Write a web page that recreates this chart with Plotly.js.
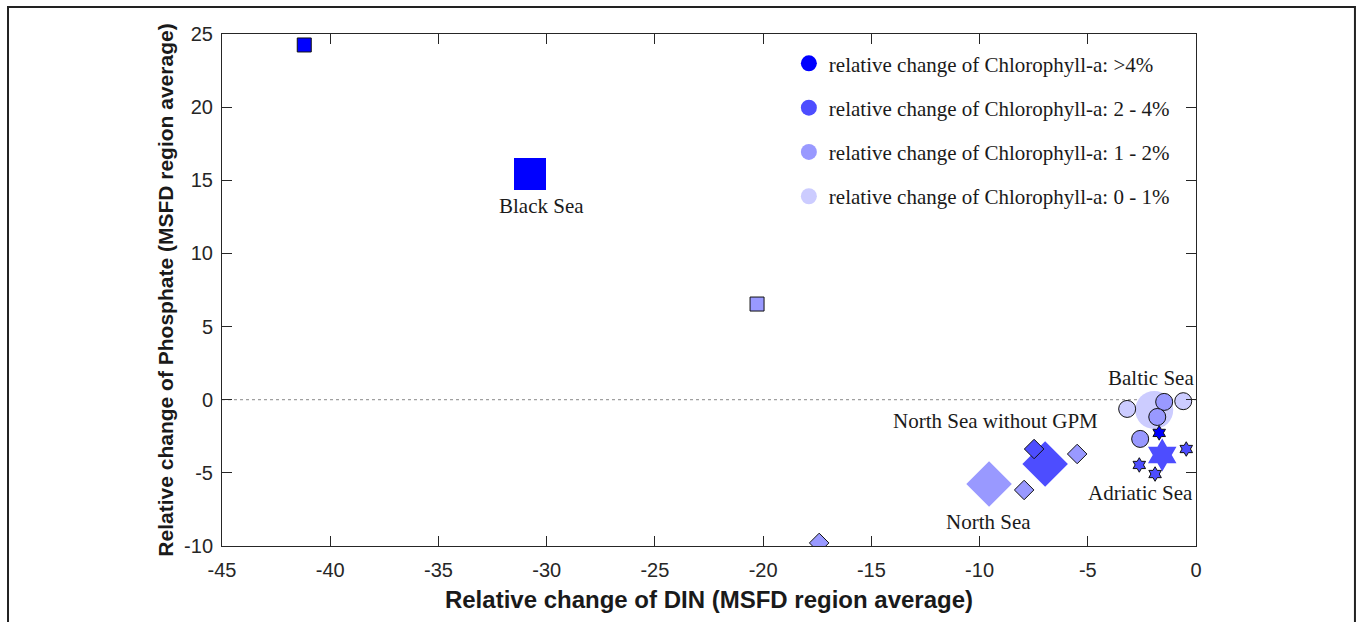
<!DOCTYPE html>
<html>
<head>
<meta charset="utf-8">
<script src="https://cdn.plot.ly/plotly-3.0.1.min.js"></script>
<style>
html,body{margin:0;padding:0;background:#fff;}
#chart{width:1357px;height:622px;}
</style>
</head>
<body>
<div id="chart"></div>
<script>
// Chlorophyll-a change categories (legend)
const categories = [
  'relative change of Chlorophyll-a: >4%',
  'relative change of Chlorophyll-a: 2 - 4%',
  'relative change of Chlorophyll-a: 1 - 2%',
  'relative change of Chlorophyll-a: 0 - 1%'
];
const categoryColors = ['#0000FF', '#4D4DFF', '#9999FF', '#CCCCFF'];

// Regions (MSFD region averages): DIN change, phosphate change, chlorophyll category index
const regionNames = ['Black Sea', 'North Sea', 'North Sea without GPM', 'Baltic Sea', 'Adriatic Sea'];
const regionSymbols = ['square', 'diamond', 'diamond', 'circle', 'hexagram'];
const regionDIN = [-30.77, -9.56, -6.97, -1.93, -1.56];
const regionPO4 = [15.43, -5.76, -4.39, -0.70, -3.78];
const regionCat = [0, 2, 1, 3, 1];

// Sub-regions per sea
const blackSeaDIN = [-41.2, -20.28];
const blackSeaPO4 = [24.25, 6.54];
const blackSeaCat = [0, 2];

const northSeaDIN = [-17.41, -7.94, -5.49, -7.48];
const northSeaPO4 = [-9.79, -6.17, -3.71, -3.37];
const northSeaCat = [2, 2, 2, 1];

const balticDIN = [-3.18, -1.47, -0.59, -1.79, -2.58];
const balticPO4 = [-0.63, -0.15, -0.10, -1.18, -2.68];
const balticCat = [3, 2, 3, 2, 2];

const adriaticDIN = [-1.70, -0.45, -2.62, -1.89];
const adriaticPO4 = [-2.27, -3.37, -4.46, -5.08];
const adriaticCat = [0, 1, 1, 1];

// Text labels
const labelText = ['Black Sea', 'North Sea without GPM', 'North Sea', 'Baltic Sea', 'Adriatic Sea'];
const labelX = [-30.26, -9.28, -9.60, -2.07, -2.58];
const labelY = [13.24, -1.45, -8.36, 1.49, -6.37];

const xTicks = [-45, -40, -35, -30, -25, -20, -15, -10, -5, 0];
const yTicks = [-10, -5, 0, 5, 10, 15, 20, 25];

const bigSize = {square: 32, diamond: 35, circle: 38, hexagram: 25};
const smallSize = {square: 14, diamond: 15, circle: 17, hexagram: 11};

const traces = [];
// region averages (large, no outline)
regionNames.forEach((name, i) => {
  traces.push({
    type: 'scatter', mode: 'markers', name: name, showlegend: false,
    x: [regionDIN[i]], y: [regionPO4[i]],
    marker: {symbol: regionSymbols[i], size: bigSize[regionSymbols[i]],
             color: categoryColors[regionCat[i]], line: {width: 0}},
    hoverinfo: 'x+y+name'
  });
});
// sub-regions (small, outlined)
const subs = [
  ['Black Sea', 'square', blackSeaDIN, blackSeaPO4, blackSeaCat],
  ['North Sea', 'diamond', northSeaDIN, northSeaPO4, northSeaCat],
  ['Baltic Sea', 'circle', balticDIN, balticPO4, balticCat],
  ['Adriatic Sea', 'hexagram', adriaticDIN, adriaticPO4, adriaticCat]
];
subs.forEach(s => {
  traces.push({
    type: 'scatter', mode: 'markers', name: s[0] + ' sub-regions', showlegend: false,
    x: s[2], y: s[3],
    marker: {symbol: s[1], size: smallSize[s[1]],
             color: s[4].map(c => categoryColors[c]),
             line: {color: '#111', width: 1}},
    hoverinfo: 'x+y+name'
  });
});
// legend entries
categories.forEach((c, i) => {
  traces.push({
    type: 'scatter', mode: 'markers', name: c, x: [null], y: [null],
    legendgroup: 'g' + i,
    marker: {symbol: 'circle', size: 26, color: categoryColors[i], line: {width: 0}}
  });
});

const serif = 'Liberation Serif, Times New Roman, serif';
const sans = 'Liberation Sans, Arial, sans-serif';

const annotations = labelText.map((t, i) => ({
  x: labelX[i], y: labelY[i], xref: 'x', yref: 'y', text: t, showarrow: false,
  font: {family: serif, size: 21, color: '#1a1a1a'}, xanchor: 'center', yanchor: 'middle'
}));

const layout = {
  width: 1357, height: 622,
  margin: {l: 222, r: 161, t: 34, b: 76},
  paper_bgcolor: '#fff', plot_bgcolor: '#fff',
  showlegend: true,
  legend: {
    x: 0.582, y: 0.982, xanchor: 'left', yanchor: 'top',
    bgcolor: 'rgba(255,255,255,0)', borderwidth: 0,
    font: {family: serif, size: 21, color: '#1a1a1a'},
    tracegroupgap: 14, itemclick: false, itemdoubleclick: false
  },
  xaxis: {
    range: [-45, 0], tickvals: xTicks, ticktext: xTicks.map(String),
    ticks: 'inside', ticklen: 10, tickwidth: 1, tickcolor: '#262626',
    showline: true, linecolor: '#262626', linewidth: 1, mirror: 'ticks',
    showgrid: false, zeroline: false, ticklabelstandoff: 6,
    tickfont: {family: sans, size: 20, color: '#262626'},
    title: {text: '<b>Relative change of DIN (MSFD region average)</b>',
            font: {family: sans, size: 24, color: '#1a1a1a'}, standoff: 11}
  },
  yaxis: {
    range: [-10, 25], tickvals: yTicks, ticktext: yTicks.map(String),
    ticks: 'inside', ticklen: 10, tickwidth: 1, tickcolor: '#262626',
    showline: true, linecolor: '#262626', linewidth: 1, mirror: 'ticks',
    showgrid: false, zeroline: false, ticklabelstandoff: 4,
    tickfont: {family: sans, size: 20, color: '#262626'},
    title: {text: '<b>Relative change of Phosphate (MSFD region average)</b>',
            font: {family: sans, size: 21, color: '#1a1a1a'}, standoff: 4}
  },
  annotations: annotations,
  shapes: [
    {type: 'line', xref: 'paper', yref: 'y', x0: 0, x1: 1, y0: 0, y1: 0,
     line: {color: '#888', width: 1, dash: 'dot'}, layer: 'below'},
    {type: 'path', xref: 'paper', yref: 'paper',
     path: 'M -0.2197,-0.2 L -0.2197,1.0527 L 1.1632,1.0527 L 1.1632,-0.2',
     line: {color: '#222', width: 2}}
  ]
};

Plotly.newPlot('chart', traces, layout, {displayModeBar: false, staticPlot: true});
</script>
</body>
</html>
